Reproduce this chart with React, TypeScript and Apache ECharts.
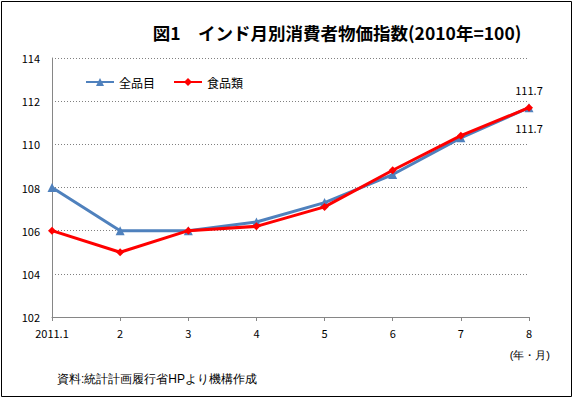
import React, { useEffect, useRef } from "react";
import * as echarts from "echarts";

const categories = ["2011.1", "2", "3", "4", "5", "6", "7", "8"];
const allItems = [108, 106, 106, 106.4, 107.3, 108.6, 110.3, 111.7];
const food = [106, 105, 106, 106.2, 107.1, 108.8, 110.4, 111.7];
const seriesNames = ["全品目", "食品類"];
const titleText = "図1　インド月別消費者物価指数(2010年=100)";
const unitText = "(年・月)";
const sourceText = "資料:統計計画履行省HPより機構作成";

export default function App() {
  const ref = useRef<HTMLDivElement>(null);
  useEffect(() => {
    document.body.style.margin = "0";
    const chart = echarts.init(ref.current!, null, { renderer: "svg" });
    const font = "'Noto Sans CJK JP', 'Noto Sans', sans-serif";
    const lastIdx = categories.length - 1;
    chart.setOption({
      animation: false,
      backgroundColor: "#ffffff",
      textStyle: { fontFamily: font },
      title: {
        text: titleText,
        left: 332,
        textAlign: "center",
        top: 19,
        textStyle: { fontSize: 17.5, fontWeight: "bold", color: "#000", fontFamily: font },
      },
      legend: {
        left: 80,
        top: 71,
        itemWidth: 28,
        itemHeight: 10,
        itemGap: 18,
        textStyle: { fontSize: 12, color: "#000", fontFamily: font },
        data: seriesNames,
      },
      grid: { left: 52, right: 46, top: 58, bottom: 82, containLabel: false },
      xAxis: {
        type: "category",
        data: categories,
        boundaryGap: false,
        axisLine: { lineStyle: { color: "#868686", width: 1 } },
        axisTick: { show: true, length: 4, lineStyle: { color: "#868686" } },
        axisLabel: { color: "#000", fontSize: 11, margin: 10, fontFamily: font },
        splitLine: { show: false },
      },
      yAxis: {
        type: "value",
        min: 102,
        max: 114,
        interval: 2,
        axisLine: { show: true, lineStyle: { color: "#868686", width: 1 } },
        axisTick: { show: false },
        axisLabel: { color: "#000", fontSize: 11, margin: 12, fontFamily: font },
        splitLine: { show: true, lineStyle: { color: "#808080", type: [1, 2], width: 1 } },
      },
      series: [
        {
          name: seriesNames[0],
          type: "line",
          data: allItems.map((v, i) =>
            i === lastIdx
              ? { value: v, label: { show: true, position: "bottom", distance: 10 } }
              : v
          ),
          symbol: "triangle",
          symbolSize: 9,
          lineStyle: { color: "#4F81BD", width: 3 },
          itemStyle: { color: "#4F81BD" },
          label: { show: false, color: "#000", fontSize: 11, fontFamily: font, formatter: (p: any) => p.value.toFixed(1) },
          z: 2,
        },
        {
          name: seriesNames[1],
          type: "line",
          data: food.map((v, i) =>
            i === lastIdx
              ? { value: v, label: { show: true, position: "top", distance: 8 } }
              : v
          ),
          symbol: "diamond",
          symbolSize: 8,
          lineStyle: { color: "#FF0000", width: 3 },
          itemStyle: { color: "#FF0000" },
          label: { show: false, color: "#000", fontSize: 11, fontFamily: font, formatter: (p: any) => p.value.toFixed(1) },
          z: 3,
        },
      ],
      graphic: [
        {
          type: "rect",
          shape: { x: 1.5, y: 1.5, width: 570, height: 395 },
          style: { fill: "none", stroke: "#000", lineWidth: 1 },
          silent: true,
        },
        {
          type: "text",
          x: 550,
          y: 355,
          style: { text: unitText, fontSize: 11, fill: "#000", font: `11px ${font}`, textAlign: "right", textVerticalAlign: "middle" },
        },
        {
          type: "text",
          x: 57,
          y: 379,
          style: { text: sourceText, fontSize: 12, fill: "#000", font: `12px ${font}`, textAlign: "left", textVerticalAlign: "middle" },
        },
      ],
    });
    return () => chart.dispose();
  }, []);
  return <div ref={ref} style={{ width: 575, height: 399, position: "absolute", left: 0, top: 0 }} />;
}
